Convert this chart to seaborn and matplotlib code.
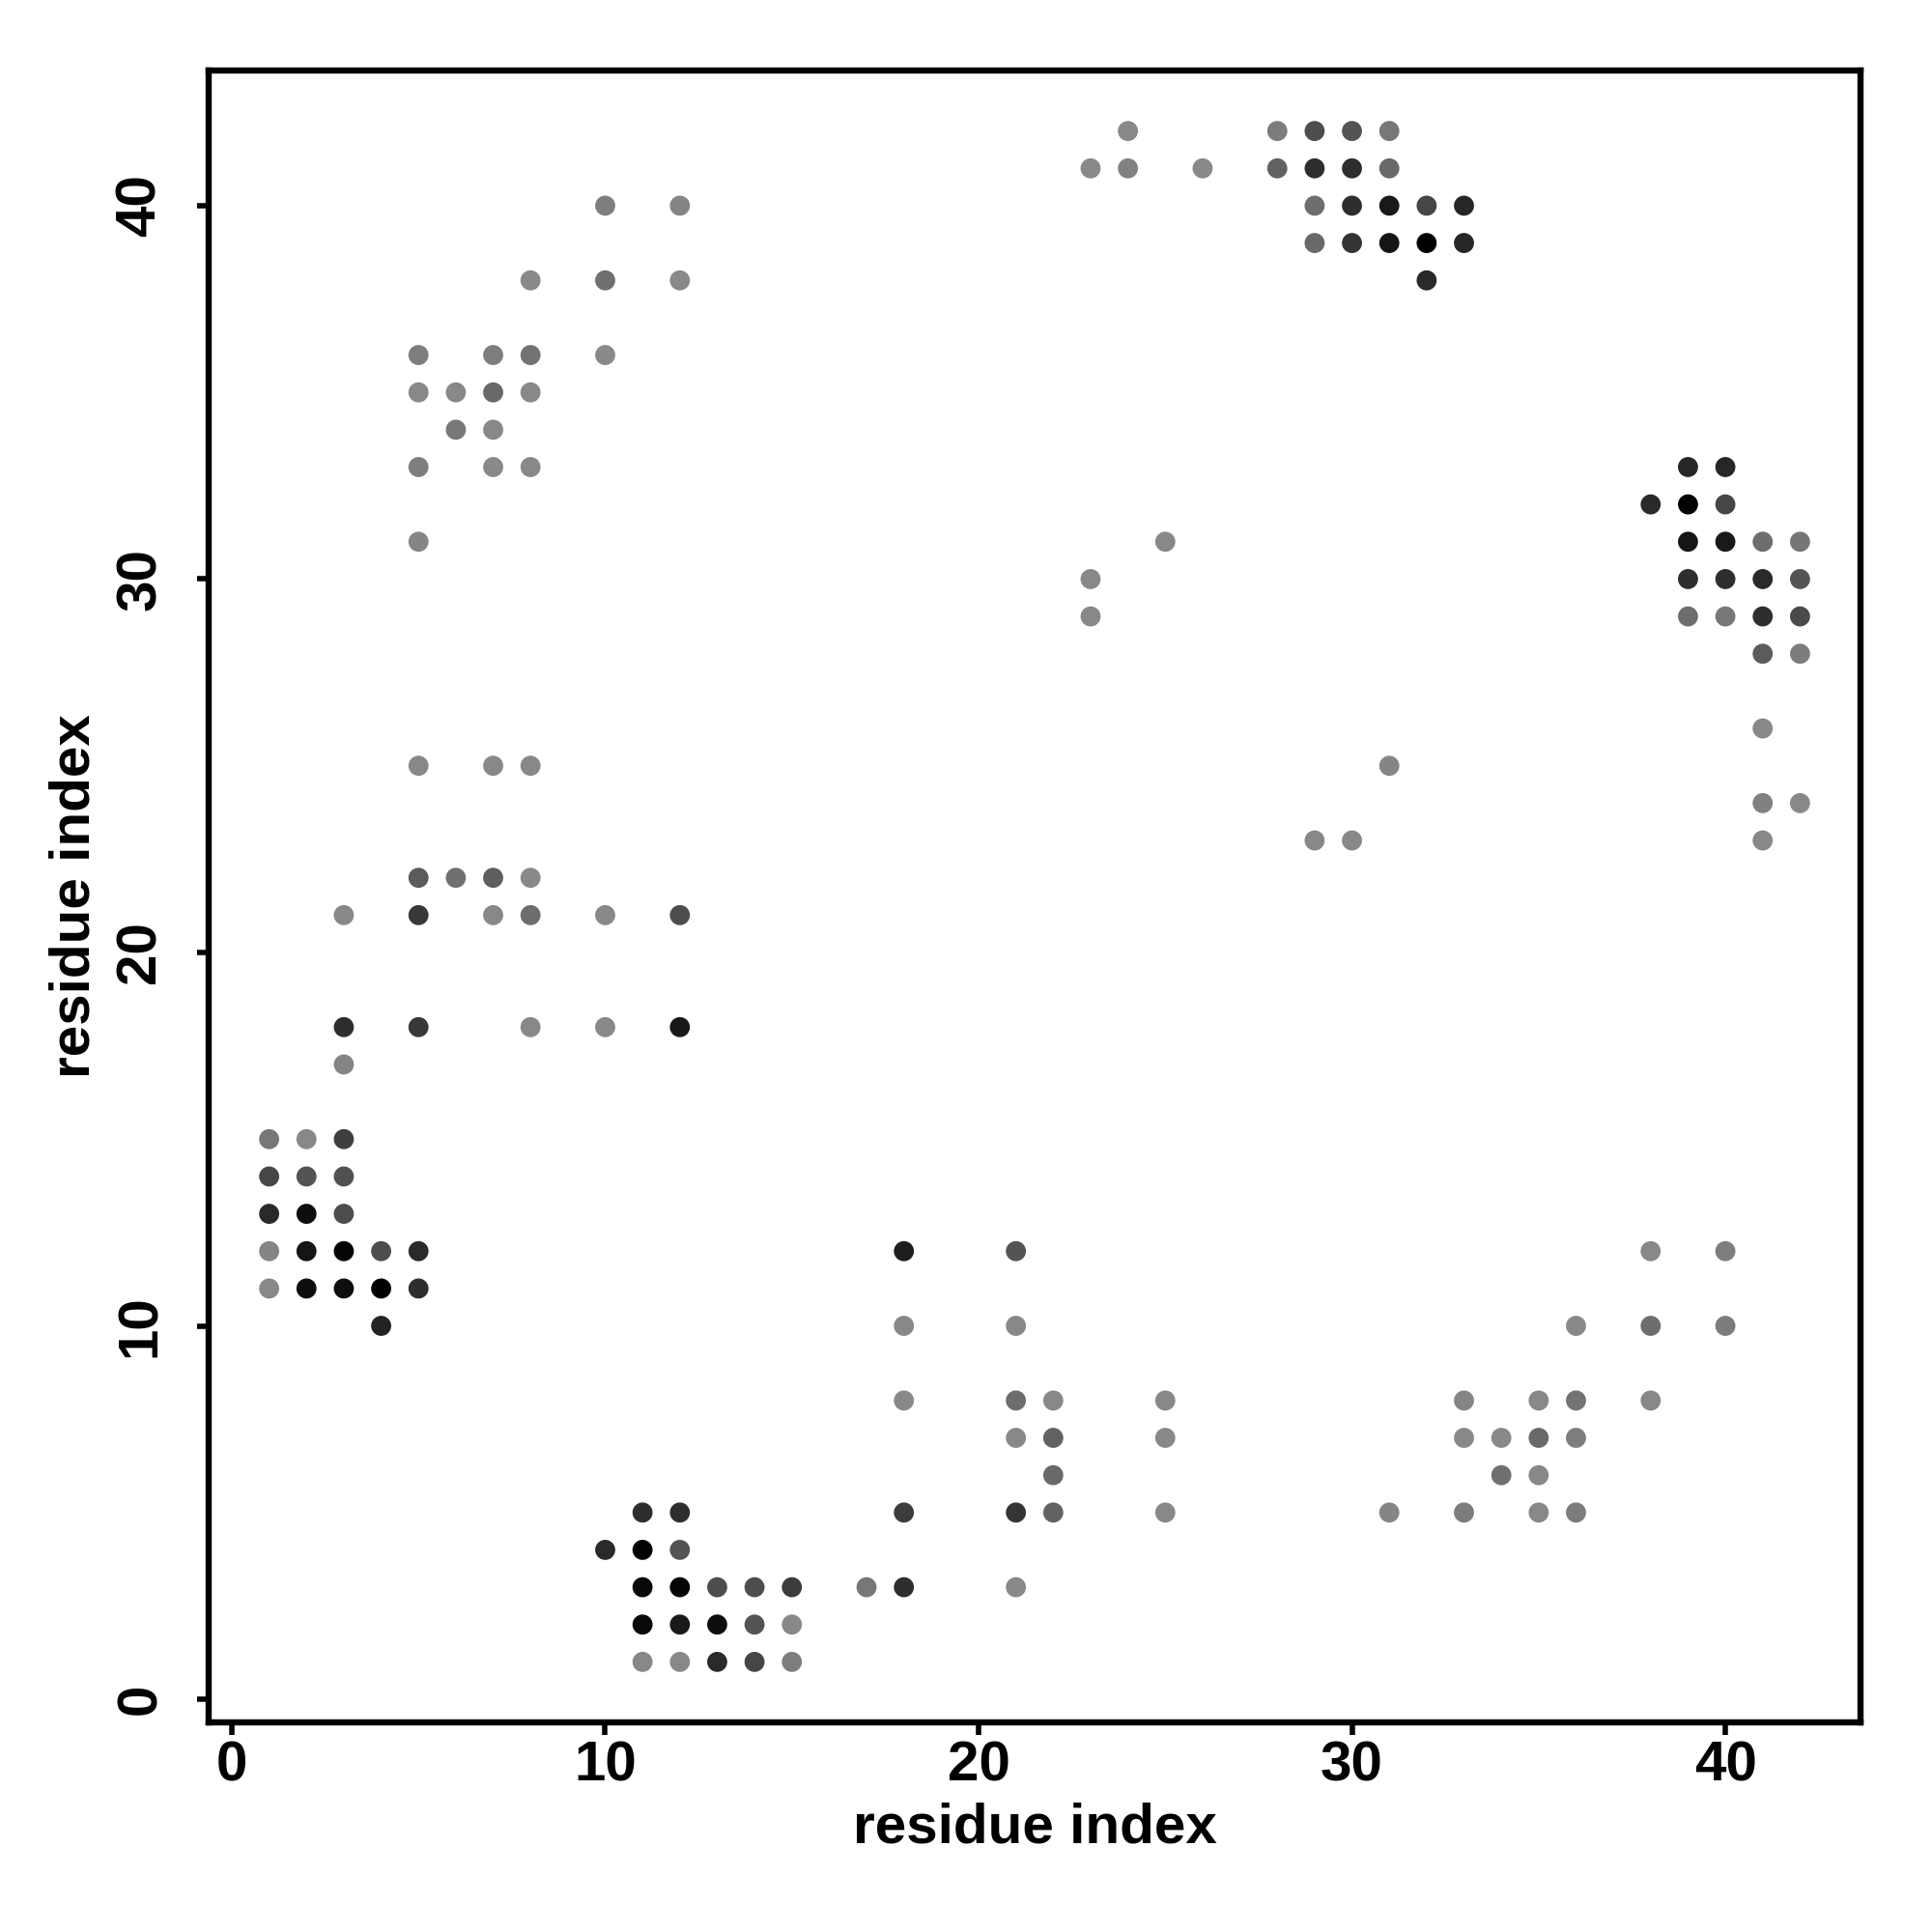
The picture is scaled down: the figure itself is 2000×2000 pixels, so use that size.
import matplotlib
matplotlib.use("Agg")
import matplotlib.pyplot as plt
from matplotlib.colors import LinearSegmentedColormap
import pandas as pd
import seaborn as sns

# contact map: residue i vs residue j, shade = contact score (0 light grey .. 1 black)
res_i = [
    # top-left block
    10, 12, 8, 10, 12, 5, 7, 8, 10, 5, 6, 7, 8, 6, 7, 5, 7, 8, 5,
    # middle-left block
    5, 7, 8, 5, 6, 7, 8, 3, 5, 7, 8, 10, 12, 3, 5, 8, 10, 12, 3,
    # bottom-left block
    1, 2, 3, 1, 2, 3, 1, 2, 3, 1, 2, 3, 4, 5, 1, 2, 3, 4, 5, 4,
    # bottom block
    11, 12, 10, 11, 12, 11, 12, 13, 14, 15, 11, 12, 13, 14, 15, 11, 12, 13, 14, 15,
    # bottom-middle
    18, 21, 18, 21, 18, 21, 22, 25, 21, 22, 25, 22, 18, 21, 22, 25, 17, 18, 21,
    # bottom-right
    38, 40, 36, 38, 40, 33, 35, 36, 38, 33, 34, 35, 36, 34, 35, 31, 33, 35, 36,
    # right block
    39, 40, 38, 39, 40, 39, 40, 41, 42, 39, 40, 41, 42, 39, 40, 41, 42, 41, 42,
    41, 41, 42, 41,
    # top block
    24, 28, 29, 30, 31, 23, 24, 26, 28, 29, 30, 31, 29, 30, 31, 32, 33,
    29, 30, 31, 32, 33, 32,
    # scattered
    23, 23, 25, 29, 30, 31,
]
res_j = [
    40, 40, 38, 38, 38, 36, 36, 36, 36, 35, 35, 35, 35, 34, 34, 33, 33, 33, 31,
    25, 25, 25, 22, 22, 22, 22, 21, 21, 21, 21, 21, 21, 18, 18, 18, 18, 18, 17,
    15, 15, 15, 14, 14, 14, 13, 13, 13, 12, 12, 12, 12, 12, 11, 11, 11, 11, 11, 10,
    5, 5, 4, 4, 4, 3, 3, 3, 3, 3, 2, 2, 2, 2, 2, 1, 1, 1, 1, 1,
    12, 12, 10, 10, 8, 8, 8, 8, 7, 7, 7, 6, 5, 5, 5, 5, 3, 3, 3,
    12, 12, 10, 10, 10, 8, 8, 8, 8, 7, 7, 7, 7, 6, 6, 5, 5, 5, 5,
    33, 33, 32, 32, 32, 31, 31, 31, 31, 30, 30, 30, 30, 29, 29, 29, 29, 28, 28,
    26, 24, 24, 23,
    42, 42, 42, 42, 42, 41, 41, 41, 41, 41, 41, 41, 40, 40, 40, 40, 40,
    39, 39, 39, 39, 39, 38,
    30, 29, 31, 23, 23, 25,
]
score = [
    0.10, 0.05, 0.02, 0.20, 0.02, 0.10, 0.10, 0.18, 0.02, 0.03, 0.03, 0.25, 0.03,
    0.15, 0.03, 0.10, 0.02, 0.02, 0.05,
    0.03, 0.03, 0.03, 0.35, 0.20, 0.33, 0.02, 0.03, 0.60, 0.03, 0.22, 0.03, 0.45,
    0.67, 0.60, 0.03, 0.03, 0.82, 0.05,
    0.15, 0.03, 0.55, 0.50, 0.40, 0.43, 0.70, 0.90, 0.45, 0.05, 0.85, 0.96, 0.45,
    0.70, 0.03, 0.90, 0.90, 1.00, 0.67, 0.75,
    0.67, 0.67, 0.70, 0.98, 0.40, 0.93, 0.96, 0.45, 0.45, 0.57, 0.93, 0.82, 0.90,
    0.40, 0.03, 0.03, 0.03, 0.70, 0.50, 0.10,
    0.78, 0.40, 0.03, 0.03, 0.03, 0.22, 0.03, 0.03, 0.03, 0.30, 0.03, 0.25, 0.57,
    0.62, 0.30, 0.03, 0.15, 0.67, 0.03,
    0.03, 0.10, 0.03, 0.22, 0.12, 0.05, 0.03, 0.18, 0.03, 0.03, 0.02, 0.25, 0.10,
    0.20, 0.03, 0.05, 0.12, 0.03, 0.12,
    0.73, 0.73, 0.70, 0.98, 0.50, 0.85, 0.82, 0.22, 0.16, 0.67, 0.67, 0.70, 0.40,
    0.22, 0.15, 0.67, 0.47, 0.35, 0.12,
    0.03, 0.08, 0.03, 0.03,
    0.03, 0.12, 0.45, 0.40, 0.15, 0.02, 0.08, 0.02, 0.30, 0.67, 0.67, 0.25, 0.22,
    0.67, 0.82, 0.50, 0.73,
    0.25, 0.63, 0.85, 1.00, 0.73, 0.70,
    0.03, 0.03, 0.03, 0.03, 0.03, 0.05,
]

df = pd.DataFrame({"i": res_i, "j": res_j, "score": score})

sns.set_style("white")
plt.rcParams["font.family"] = ["Liberation Sans", "DejaVu Sans"]
plt.rcParams["font.weight"] = "bold"
plt.rcParams["text.color"] = "black"
plt.rcParams["axes.labelcolor"] = "black"
plt.rcParams["xtick.color"] = "black"
plt.rcParams["ytick.color"] = "black"

grey = LinearSegmentedColormap.from_list("grey", ["#8c8c8c", "#000000"])

fig = plt.figure(figsize=(10, 10), dpi=200)
ax = fig.add_axes([0.108, 0.1085, 0.855, 0.855])
sns.scatterplot(data=df, x="i", y="j", hue="score", palette=grey, hue_norm=(0, 1),
                s=56, linewidth=0, legend=False, ax=ax)

ax.set_xlim(-0.62, 43.62)
ax.set_ylim(-0.62, 43.62)
ax.set_xticks([0, 10, 20, 30, 40])
ax.set_yticks([0, 10, 20, 30, 40])
for side in ax.spines.values():
    side.set_linewidth(2.3)
    side.set_color("black")
ax.tick_params(axis="both", length=4.5, width=2.0, color="black", labelcolor="black",
               labelsize=21, bottom=True, left=True)
ax.tick_params(axis="x", pad=2)
ax.tick_params(axis="y", pad=11)
for lab in ax.get_yticklabels():
    lab.set_rotation(90)
    lab.set_va("center")
    lab.set_fontweight("bold")
for lab in ax.get_xticklabels():
    lab.set_fontweight("bold")

ax.set_xlabel("residue index", fontsize=21, fontweight="bold", va="center", color="black")
ax.set_ylabel("residue index", fontsize=21, fontweight="bold", va="center", color="black")
ax.xaxis.set_label_coords(0.5, -0.064)
ax.yaxis.set_label_coords(-0.081, 0.5)

fig.savefig("out.png", dpi=200, facecolor="white")
